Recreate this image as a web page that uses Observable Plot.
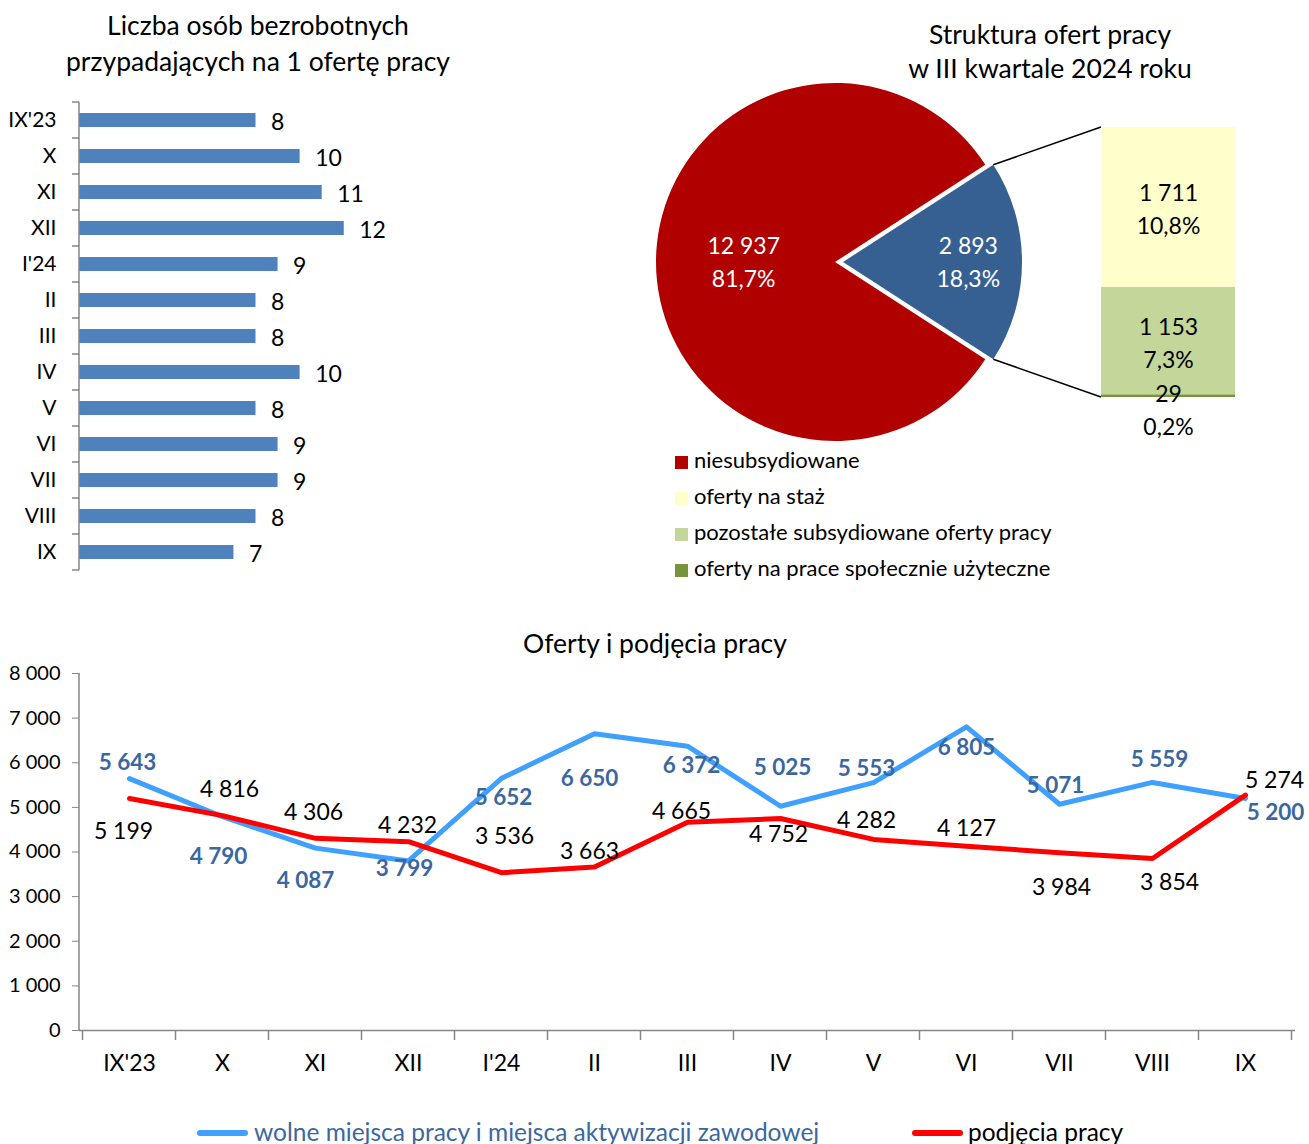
<!DOCTYPE html>
<html><head><meta charset="utf-8">
<script src="https://cdn.jsdelivr.net/npm/d3@7"></script>
<script src="https://cdn.jsdelivr.net/npm/@observablehq/plot@0.6"></script>
<style>
body{margin:0;background:#fff;font-family:Lato,sans-serif;color:#000;}
#root{position:relative;width:1309px;height:1144px;overflow:hidden;background:#fff;}
.abs{position:absolute;}
.title{font-size:26.5px;text-align:center;line-height:36px;white-space:nowrap;}
.leg{font-size:22px;line-height:36px;height:36px;white-space:nowrap;}
.sw{display:inline-block;width:13px;height:13px;margin-right:6px;vertical-align:-1px;}
g[aria-label="y-axis tick"] path{stroke:#868686;}
</style></head>
<body><div id="root"></div>
<script>
// ---------- DATA ----------
const barMonths = ["IX'23","X","XI","XII","I'24","II","III","IV","V","VI","VII","VIII","IX"];
const unemployedPerOffer = [8,10,11,12,9,8,8,10,8,9,9,8,7];

const pieCategories = ["niesubsydiowane","subsydiowane"];
const pieValues = [12937, 2893];
const piePercents = ["81,7%","18,3%"];

const subCategories = ["oferty na prace społecznie użyteczne","pozostałe subsydiowane oferty pracy","oferty na staż"];
const subValues = [29, 1153, 1711];
const subPercents = ["0,2%","7,3%","10,8%"];

const legendCategories = ["niesubsydiowane","oferty na staż","pozostałe subsydiowane oferty pracy","oferty na prace społecznie użyteczne"];

const lineMonths = ["IX'23","X","XI","XII","I'24","II","III","IV","V","VI","VII","VIII","IX"];
const offers = [5643,4790,4087,3799,5652,6650,6372,5025,5553,6805,5071,5559,5200];
const hires  = [5199,4816,4306,4232,3536,3663,4665,4752,4282,4127,3984,3854,5274];
const yTicks = [0,1000,2000,3000,4000,5000,6000,7000,8000];

const seriesNames = ["wolne miejsca pracy i miejsca aktywizacji zawodowej","podjęcia pracy"];

// ---------- LAYOUT / STYLE ----------
const FONT = "Lato, sans-serif";
const AXIS = "#868686";
const BAR = "#4F81BD";
const pieColors = ["#B00000","#376092"];
const subColors = ["#77933C","#C4D79B","#FFFFCC"];
const BLUE = "#3FA0FF", RED = "#FF0000", BLUE_LABEL = "#3B67A0";
const pieLabelRadius = [0.51, 0.70];
const subLabelDy = [12, 0, 0];
const offerLabelDx = [-2,-4,-10,-4,2,-5,4,2,-7,0,-4,7,30];
const offerLabelDy = [-16,40,33,8,20,45,20,-38,-14,21,-18,-23,14];
const hireLabelDx = [-6,7,-2,-1,3,-5,-6,-2,-7,0,2,17,29];
const hireLabelDy = [33,-26,-26,-16,-36,-15,-11,16,-19,-18,35,24,-15];

const fmt = v => String(v).replace(/\B(?=(\d{3})+(?!\d))/g, " ");
const root = document.getElementById("root");
function addDiv(html, css, cls="abs") { const d = document.createElement("div"); d.className = cls; Object.assign(d.style, css); d.innerHTML = html; root.appendChild(d); return d; }
function place(node, left, top) { const w = document.createElement("div"); w.className = "abs"; w.style.left = left + "px"; w.style.top = top + "px"; w.appendChild(node); root.appendChild(w); }

// ---------- BAR CHART ----------
addDiv("Liczba osób bezrobotnych<br>przypadających na 1 ofertę pracy", {left:"0px", top:"7px", width:"516px"}, "abs title");
const barData = barMonths.map((m, i) => ({m, v: unemployedPerOffer[i]}));
const bandTicksY = (index, scales, values, dims) => {
  const y = scales.y, bw = y.bandwidth(), st = y.step();
  const x0 = dims.marginLeft;
  const top = y(barMonths[0]) - (st - bw) / 2;
  const g = d3.create("svg:g").attr("stroke", AXIS).attr("stroke-width", 1.5);
  g.append("line").attr("x1", x0).attr("x2", x0).attr("y1", top).attr("y2", top + st * barMonths.length);
  for (let i = 0; i <= barMonths.length; i++) {
    const yy = top + i * st;
    g.append("line").attr("x1", x0 - 7).attr("x2", x0).attr("y1", yy).attr("y2", yy);
  }
  return g.node();
};
const barChart = Plot.plot({
  width: 470, height: 500, marginLeft: 79, marginRight: 38, marginTop: 10, marginBottom: 17,
  style: {fontFamily: FONT, fontSize: "21px", color: "#000", background: "none"},
  x: {domain: [0, 16], axis: null},
  y: {domain: barMonths, paddingInner: 0.6, paddingOuter: 0.3},
  marks: [
    Plot.axisY({tickSize: 0, tickPadding: 23, fontSize: 21, label: null}),
    Plot.barX(barData, {x: "v", y: "m", fill: BAR}),
    Plot.text(barData, {x: "v", y: "m", text: d => String(d.v), textAnchor: "start", dx: 15, dy: 2, fontSize: 23}),
    bandTicksY
  ]
});
place(barChart, 0, 90);

// ---------- PIE + BAR OF PIE ----------
addDiv("Struktura ofert pracy<br>w III kwartale 2024 roku", {left:"850px", top:"17px", width:"400px", lineHeight:"34px"}, "abs title");
const subTotal = d3.sum(subValues);
const cum = d3.cumsum(subValues);
const subData = subCategories.map((c, i) => ({c, v: subValues[i], p: subPercents[i], mid: cum[i] - subValues[i] / 2}));
const pieTotal = d3.sum(pieValues);
const pieMark = (index, scales, values, dims) => {
  const cx = 195, cy = 182, r = 179, explode = 8;
  const color = scales.color || (c => pieColors[pieCategories.indexOf(c)]);
  const ba = 2 * Math.PI * pieValues[1] / pieTotal;
  const s = Math.PI / 2 + ba / 2;
  const arcs = d3.pie().sort(null).startAngle(s).endAngle(s + 2 * Math.PI)(pieValues);
  const arc = d3.arc().innerRadius(0).outerRadius(r);
  const g = d3.create("svg:g");
  let blueOrigin;
  arcs.forEach((a, i) => {
    const mid = (a.startAngle + a.endAngle) / 2;
    const off = i === 1 ? explode : 0;
    const ox = cx + off * Math.sin(mid), oy = cy - off * Math.cos(mid);
    if (i === 1) blueOrigin = [ox, oy, a];
    g.append("path").attr("d", arc(a)).attr("transform", `translate(${ox},${oy})`).attr("fill", color(pieCategories[i]));
    const lr = r * pieLabelRadius[i];
    const lx = ox + lr * Math.sin(mid), ly = oy - lr * Math.cos(mid);
    const t = g.append("text").attr("fill", "#fff").attr("font-size", 23).attr("text-anchor", "middle").attr("font-family", FONT);
    t.append("tspan").attr("x", lx).attr("y", ly - 16).attr("dy", "0.35em").text(fmt(pieValues[i]));
    t.append("tspan").attr("x", lx).attr("y", ly + 17).attr("dy", "0.35em").text(piePercents[i]);
  });
  // connectors
  const [ox, oy, a] = blueOrigin;
  const bx = scales.x("ofert");
  const p0 = [ox + r * Math.sin(a.startAngle), oy - r * Math.cos(a.startAngle)];
  const p1 = [ox + r * Math.sin(a.endAngle), oy - r * Math.cos(a.endAngle)];
  g.append("line").attr("x1", p0[0]).attr("y1", p0[1]).attr("x2", bx).attr("y2", scales.y(subTotal)).attr("stroke", "#000").attr("stroke-width", 1.5);
  g.append("line").attr("x1", p1[0]).attr("y1", p1[1]).attr("x2", bx).attr("y2", scales.y(0)).attr("stroke", "#000").attr("stroke-width", 1.5);
  return g.node();
};
const pieChart = Plot.plot({
  width: 669, height: 380, margin: 0,
  style: {fontFamily: FONT, fontSize: "23px", color: "#000", background: "none", overflow: "visible"},
  x: {domain: ["ofert"], range: [461, 595], padding: 0, axis: null},
  y: {domain: [0, subTotal], range: [317, 47], axis: null},
  color: {domain: [...pieCategories, ...subCategories], range: [...pieColors, ...subColors]},
  marks: [
    pieMark,
    Plot.barY(subData, {x: () => "ofert", y: "v", fill: "c"}),
    ...subData.map((d, i) => Plot.text([d], {x: () => "ofert", y: "mid", text: d => fmt(d.v) + "\n" + d.p, dy: subLabelDy[i], fontSize: 23, lineHeight: 1.43, fill: "#000"}))
  ]
});
place(pieChart, 640, 80);
const legColor = c => {
  const all = [...pieCategories, ...subCategories], cols = [...pieColors, ...subColors];
  return cols[all.indexOf(c)];
};
legendCategories.forEach((c, i) => {
  addDiv(`<span class="sw" style="background:${legColor(c)}"></span>${c}`, {left: "675px", top: (442 + i * 36) + "px"}, "abs leg");
});

// ---------- LINE CHART ----------
addDiv("Oferty i podjęcia pracy", {left: "0px", top: "625px", width: "1310px"}, "abs title");
const lineData = lineMonths.map((m, i) => ({m, offers: offers[i], hires: hires[i]}));
const lineAxes = (index, scales, values, dims) => {
  const x = scales.x, y = scales.y, st = x.step();
  const g = d3.create("svg:g").attr("stroke", AXIS).attr("stroke-width", 1.5);
  const left = dims.marginLeft, bottom = y(0);
  g.append("line").attr("x1", left).attr("x2", left).attr("y1", y(yTicks[yTicks.length - 1])).attr("y2", bottom);
  const x0 = x(lineMonths[0]) - st / 2;
  for (let i = 0; i <= lineMonths.length; i++) {
    const xx = x0 + i * st;
    g.append("line").attr("x1", xx).attr("x2", xx).attr("y1", bottom).attr("y2", bottom + 10);
  }
  return g.node();
};
const lineChart = Plot.plot({
  width: 1309, height: 430, marginLeft: 79, marginRight: 14, marginTop: 13, marginBottom: 60,
  style: {fontFamily: FONT, fontSize: "20px", color: "#000", background: "none", overflow: "visible"},
  x: {type: "point", domain: lineMonths, padding: 0.5},
  y: {domain: [0, 8000]},
  marks: [
    Plot.axisY({ticks: yTicks, tickFormat: fmt, tickSize: 7, tickPadding: 12, fontSize: 20, label: null}),
    Plot.axisX({tickSize: 0, tickPadding: 24, fontSize: 23, label: null}),
    Plot.ruleY([0], {stroke: AXIS, strokeWidth: 1.5}),
    lineAxes,
    Plot.line(lineData, {x: "m", y: "offers", stroke: BLUE, strokeWidth: 5, strokeLinejoin: "round"}),
    Plot.line(lineData, {x: "m", y: "hires", stroke: RED, strokeWidth: 5, strokeLinejoin: "round"}),
    ...lineData.map((d, i) => Plot.text([d], {x: "m", y: "offers", text: d => fmt(d.offers), dx: offerLabelDx[i], dy: offerLabelDy[i], fill: BLUE_LABEL, fontWeight: "bold", fontSize: 22.5})),
    ...lineData.map((d, i) => Plot.text([d], {x: "m", y: "hires", text: d => fmt(d.hires), dx: hireLabelDx[i], dy: hireLabelDy[i], fill: "#000", fontSize: 23}))
  ]
});
place(lineChart, 0, 660);

// bottom legend
addDiv("", {left: "197px", top: "1130px", width: "51px", height: "6px", borderRadius: "3px", background: BLUE});
addDiv(seriesNames[0], {left: "254px", top: "1115px", fontSize: "24.5px", lineHeight: "34px", color: BLUE_LABEL, whiteSpace: "nowrap"});
addDiv("", {left: "912px", top: "1130px", width: "51px", height: "6px", borderRadius: "3px", background: RED});
addDiv(seriesNames[1], {left: "968px", top: "1115px", fontSize: "24.5px", lineHeight: "34px", color: "#000", whiteSpace: "nowrap"});
</script>
</body></html>
